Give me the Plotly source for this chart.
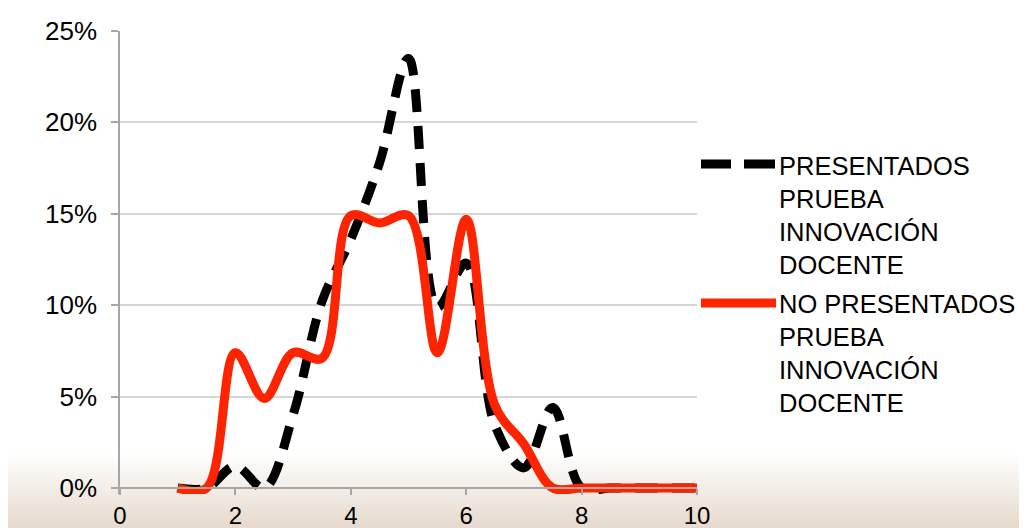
import plotly.graph_objects as go

# ---- data (values in %) ----
notas = [1, 1.5, 2, 2.5, 3, 3.5, 4, 4.5, 5, 5.5, 6, 6.5, 7, 7.5, 8, 8.5, 9, 9.5, 10]
presentados = [0, 0, 1.2, 0, 4.0, 10.2, 13.6, 17.8, 23.5, 9.9, 12.3, 3.4, 1.1, 4.4, 0, 0, 0, 0, 0]
no_presentados = [0, 0, 7.4, 4.9, 7.4, 7.1, 14.9, 14.5, 14.9, 7.4, 14.7, 4.5, 2.4, 0, 0, 0, 0, 0, 0]
serie_names = ["PRESENTADOS<br>PRUEBA<br>INNOVACIÓN<br>DOCENTE",
               "NO PRESENTADOS<br>PRUEBA<br>INNOVACIÓN<br>DOCENTE"]
y_ticks = [0, 5, 10, 15, 20, 25]
y_tick_text = ["0%", "5%", "10%", "15%", "20%", "25%"]
x_ticks = [0, 2, 4, 6, 8, 10]

OFF = 8  # page body margin
W, H = 1027, 528
L, R, T, B = 112, 338, 23, 42
Y_LOW, Y_HIGH = -0.33, 25
FONT = "Liberation Sans, Arial, sans-serif"

plot_h = H - T - B
plot_w = W - L - R


def py(p):  # page pixel row -> paper y
    return (H - B - (p - OFF)) / plot_h


def px(p):  # page pixel col -> paper x
    return (p - OFF - L) / plot_w


fig = go.Figure()
fig.add_trace(go.Scatter(x=notas, y=presentados, mode="lines", name=serie_names[0],
                         line=dict(color="#000000", width=9, dash="23px,14px", shape="spline"),
                         showlegend=False))
fig.add_trace(go.Scatter(x=notas, y=no_presentados, mode="lines", name=serie_names[1],
                         line=dict(color="#FF2400", width=9, shape="spline"),
                         showlegend=False))

shapes = []
# background gradient at bottom of slide
g0, g1 = 452, 536
top_c = (255, 255, 255)
bot_c = (229, 218, 204)
step = 2
for p in range(g0, g1, step):
    t = min(1.0, (p - g0 + step / 2) / (528 - g0))
    c = tuple(round(top_c[i] + (bot_c[i] - top_c[i]) * t) for i in range(3))
    shapes.append(dict(type="rect", xref="paper", yref="paper", layer="below",
                       x0=-0.3, x1=1.7, y0=py(p + step + 0.5), y1=py(p),
                       fillcolor="rgb(%d,%d,%d)" % c, line=dict(width=0)))

# remnant of the cut-off slide title (purple blob at the top edge)
blob = [(284, -1), (298, -1), (294, 4), (286, 5), (280, 4)]
path = "M " + " L ".join("%.5f,%.5f" % (px(a), py(b)) for a, b in blob) + " Z"
shapes.append(dict(type="path", xref="paper", yref="paper", path=path,
                   fillcolor="#7272D6", line=dict(width=0)))

# custom legend symbols
shapes.append(dict(type="line", xref="paper", yref="paper", x0=px(701), x1=px(731),
                   y0=py(164), y1=py(164), line=dict(color="#000000", width=9)))
shapes.append(dict(type="line", xref="paper", yref="paper", x0=px(744), x1=px(775),
                   y0=py(164), y1=py(164), line=dict(color="#000000", width=9)))
shapes.append(dict(type="line", xref="paper", yref="paper", x0=px(701), x1=px(776),
                   y0=py(303), y1=py(303), line=dict(color="#FF2400", width=9)))

annotations = [
    dict(xref="paper", yref="paper", x=px(777), y=py(215.5), xanchor="left", yanchor="middle",
         text=serie_names[0], showarrow=False, align="left",
         font=dict(family=FONT, size=25.5, color="#000000")),
    dict(xref="paper", yref="paper", x=px(777), y=py(353), xanchor="left", yanchor="middle",
         text=serie_names[1], showarrow=False, align="left",
         font=dict(family=FONT, size=25.5, color="#000000")),
]

fig.update_layout(
    template="none",
    width=W, height=H,
    margin=dict(l=L, r=R, t=T, b=B, pad=0, autoexpand=False),
    paper_bgcolor="#FFFFFF",
    plot_bgcolor="rgba(0,0,0,0)",
    showlegend=False,
    font=dict(family=FONT, color="#000000"),
    shapes=shapes,
    annotations=annotations,
    xaxis=dict(range=[0, 10], tickmode="array", tickvals=x_ticks, showgrid=False, zeroline=False,
               anchor="free", position=(0 - Y_LOW) / (Y_HIGH - Y_LOW), automargin=False,
               showline=True, linecolor="#A6A6A6", linewidth=1.5,
               ticks="outside", ticklen=6, tickwidth=1.5, tickcolor="#A6A6A6",
               tickfont=dict(family=FONT, size=24, color="#000000"), ticklabelstandoff=0),
    yaxis=dict(range=[Y_LOW, Y_HIGH], tickmode="array", tickvals=y_ticks, ticktext=y_tick_text,
               showgrid=True, gridcolor="#D6D6D6", gridwidth=1.5, zeroline=False, automargin=False,
               showline=True, linecolor="#A6A6A6", linewidth=1.5,
               ticks="outside", ticklen=7, tickwidth=1.5, tickcolor="#A6A6A6",
               tickfont=dict(family=FONT, size=26, color="#000000"), ticklabelstandoff=9),
)

fig.write_html("out.html")
